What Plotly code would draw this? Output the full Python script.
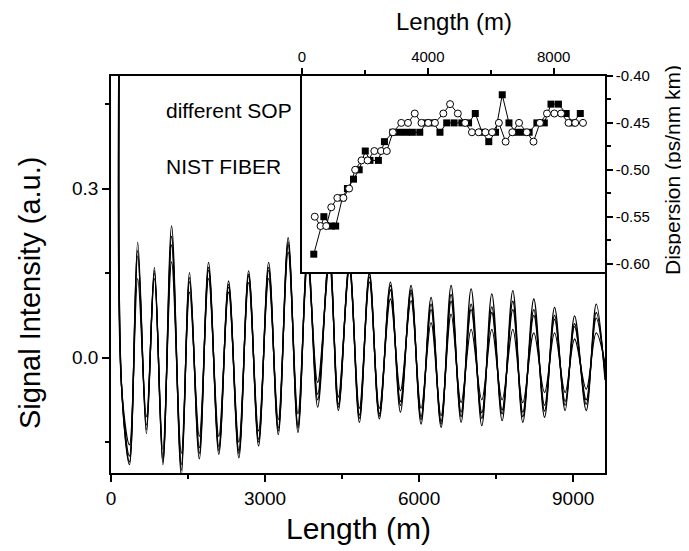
import plotly.graph_objects as go

# ---------------- main chart data (extrema) ----------------
ext_x = [190, 205, 360, 520, 690, 845, 1010, 1180, 1370, 1530, 1720, 1900, 2100, 2290,
         2490, 2680, 2874, 3070, 3258, 3450, 3641, 3830, 4025, 4253, 4428, 4642, 4837,
         5032, 5226, 5441, 5636, 5843, 6038, 6233, 6428, 6623, 6818, 7013, 7221, 7416,
         7617, 7825, 8020, 8234, 8443, 8638, 8844, 9028, 9254, 9449, 9620]

sop_a = [0.9, -0.05, -0.19, 0.205, -0.135, 0.16, -0.19, 0.234, -0.21, 0.151, -0.18, 0.169,
         -0.172, 0.136, -0.178, 0.154, -0.157, 0.169, -0.137, 0.213, -0.133, 0.19, -0.088,
         0.19, -0.094, 0.17, -0.115, 0.152, -0.109, 0.134, -0.097, 0.128, -0.118, 0.107,
         -0.124, 0.128, -0.115, 0.122, -0.121, 0.113, -0.112, 0.119, -0.115, 0.104, -0.106,
         0.089, -0.094, 0.074, -0.094, 0.095, -0.04]
sop_b = [0.9, -0.05, -0.155, 0.14, -0.105, 0.14, -0.163, 0.17, -0.17, 0.116, -0.14, 0.14,
         -0.14, 0.116, -0.15, 0.133, -0.13, 0.14, -0.11, 0.187, -0.10, 0.165, -0.044,
         0.165, -0.07, 0.155, -0.09, 0.134, -0.09, 0.104, -0.059, 0.101, -0.09, 0.062,
         -0.103, 0.077, -0.08, 0.05, -0.075, 0.05, -0.075, 0.05, -0.08, 0.044, -0.062,
         0.044, -0.062, 0.033, -0.056, 0.044, -0.01]
sop_c = [0.9, -0.05, -0.175, 0.18, -0.12, 0.15, -0.178, 0.2, -0.19, 0.135, -0.16, 0.155,
         -0.158, 0.125, -0.165, 0.145, -0.145, 0.155, -0.125, 0.2, -0.12, 0.18, -0.065,
         0.18, -0.083, 0.162, -0.102, 0.143, -0.1, 0.12, -0.078, 0.115, -0.105, 0.085,
         -0.113, 0.1, -0.097, 0.085, -0.098, 0.08, -0.093, 0.085, -0.097, 0.075, -0.085,
         0.068, -0.078, 0.055, -0.075, 0.07, -0.025]
sop_d = [0.9, -0.05, -0.185, 0.19, -0.128, 0.155, -0.185, 0.215, -0.2, 0.142, -0.17, 0.16,
         -0.165, 0.13, -0.17, 0.148, -0.15, 0.16, -0.13, 0.205, -0.125, 0.185, -0.075,
         0.185, -0.088, 0.165, -0.108, 0.148, -0.104, 0.128, -0.085, 0.12, -0.11, 0.095,
         -0.118, 0.112, -0.105, 0.095, -0.108, 0.09, -0.1, 0.1, -0.105, 0.085, -0.095,
         0.075, -0.085, 0.06, -0.083, 0.08, -0.03]

# ---------------- inset data ----------------
sq_x = [374, 695, 930, 1070, 1283, 1444, 1636, 1818, 2011, 2160, 2428, 2620, 2888, 3102,
        3316, 3508, 3743, 3957, 4171, 4385, 4599, 4834, 5080, 5294, 5508, 5722, 5936,
        6150, 6364, 6578, 6791, 7005, 7219, 7465, 7701, 7914, 8150, 8396, 8610, 8845]
sq_y = [-0.59, -0.55, -0.56, -0.56, -0.53, -0.52, -0.51, -0.50, -0.48, -0.49, -0.49, -0.47,
        -0.46, -0.46, -0.46, -0.46, -0.46, -0.45, -0.45, -0.46, -0.45, -0.45, -0.45, -0.45,
        -0.44, -0.46, -0.47, -0.46, -0.42, -0.45, -0.46, -0.46, -0.46, -0.45, -0.45, -0.43,
        -0.43, -0.44, -0.45, -0.44]
circ_x = [406, 588, 770, 930, 1123, 1316, 1497, 1690, 1893, 2086, 2299, 2513, 2695, 2888,
          3155, 3369, 3583, 3797, 4011, 4225, 4492, 4706, 4952, 5187, 5401, 5615, 5829,
          6043, 6257, 6471, 6684, 6898, 7144, 7358, 7561, 7786, 8021, 8235, 8471, 8684, 8930]
circ_y = [-0.55, -0.56, -0.56, -0.54, -0.53, -0.53, -0.52, -0.50, -0.49, -0.49, -0.48, -0.48,
          -0.48, -0.46, -0.45, -0.45, -0.44, -0.45, -0.45, -0.45, -0.44, -0.43, -0.44, -0.45,
          -0.46, -0.46, -0.46, -0.46, -0.45, -0.47, -0.46, -0.45, -0.46, -0.47, -0.45, -0.44,
          -0.44, -0.44, -0.45, -0.45, -0.45]

main_xticks = [0, 3000, 6000, 9000]
main_yticks = [0.0, 0.3]
inset_xticks = [0, 4000, 8000]
inset_yticks = [-0.40, -0.45, -0.50, -0.55, -0.60]

FONT = "Liberation Sans, Arial, Helvetica, sans-serif"
W, H = 689, 551
L, R, T, B = 103, 92, 68, 86
PW, PH = W - L - R, H - T - B


def px(x):
    return (x - L) / PW


def py(y):
    return (H - B - y) / PH


fig = go.Figure()
for ys in [sop_a, sop_b, sop_c, sop_d]:
    fig.add_trace(go.Scatter(x=ext_x, y=ys, mode="lines", xaxis="x", yaxis="y",
                             line=dict(color="black", width=1.3, shape="spline", smoothing=1.0),
                             showlegend=False, hoverinfo="skip"))

fig.add_trace(go.Scatter(x=sq_x, y=sq_y, mode="lines+markers", xaxis="x2", yaxis="y2",
                         line=dict(color="black", width=1),
                         marker=dict(symbol="square", size=7, color="black"),
                         showlegend=False))
fig.add_trace(go.Scatter(x=circ_x, y=circ_y, mode="lines+markers", xaxis="x2", yaxis="y2",
                         line=dict(color="black", width=1),
                         marker=dict(symbol="circle", size=7, color="white",
                                     line=dict(color="black", width=1)),
                         showlegend=False))

axis_common = dict(showgrid=False, zeroline=False, showline=True, linecolor="black",
                   linewidth=1.5, ticks="outside", tickcolor="black", tickwidth=1.5)

fig.update_layout(
    width=W, height=H,
    margin=dict(l=L, r=R, t=T, b=B),
    paper_bgcolor="white", plot_bgcolor="white",
    font=dict(family=FONT, color="black"),
    xaxis=dict(**axis_common, domain=[0, 1], range=[0, 9620], mirror=True,
               tickmode="array", tickvals=main_xticks,
               ticktext=[str(v) for v in main_xticks], ticklen=7,
               tickfont=dict(size=19),
               minor=dict(tickmode="array", tickvals=[1500, 4500, 7500],
                          ticks="outside", ticklen=4, tickcolor="black", tickwidth=1.5)),
    yaxis=dict(**axis_common, domain=[0, 1], range=[-0.205, 0.5], mirror=True,
               tickmode="array", tickvals=main_yticks, ticktext=["0.0", "0.3"],
               ticklen=7, tickfont=dict(size=19),
               minor=dict(tickmode="array", tickvals=[-0.15, 0.15, 0.45],
                          ticks="outside", ticklen=4, tickcolor="black", tickwidth=1.5)),
    xaxis2=dict(**axis_common, domain=[px(294), 1], range=[0, 9630], side="top",
                anchor="y2", mirror=True, tickmode="array", tickvals=inset_xticks,
                ticktext=[str(v) for v in inset_xticks], ticklen=6,
                tickfont=dict(size=15),
                minor=dict(tickmode="array", tickvals=[2000, 6000],
                           ticks="outside", ticklen=4, tickcolor="black", tickwidth=1.5)),
    yaxis2=dict(**axis_common, domain=[py(264), 1], range=[-0.609, -0.40], side="right",
                anchor="x2", mirror=True, tickmode="array", tickvals=inset_yticks,
                ticktext=["%.2f" % v for v in inset_yticks], ticklen=6,
                tickfont=dict(size=15),
                minor=dict(tickmode="array",
                           tickvals=[-0.425, -0.475, -0.525, -0.575],
                           ticks="outside", ticklen=4, tickcolor="black", tickwidth=1.5)),
)

annots = [
    dict(text="different SOP", x=px(156), y=py(102), xanchor="left", yanchor="middle",
         font=dict(size=21)),
    dict(text="NIST FIBER", x=px(156), y=py(158), xanchor="left", yanchor="middle",
         font=dict(size=21)),
    dict(text="Length (m)", x=px(350), y=py(520), xanchor="center", yanchor="middle",
         font=dict(size=30)),
    dict(text="Signal Intensity (a.u.)", x=px(22), y=py(285), xanchor="center",
         yanchor="middle", textangle=-90, font=dict(size=29)),
    dict(text="Length (m)", x=px(446), y=py(13), xanchor="center", yanchor="middle",
         font=dict(size=24)),
    dict(text="Dispersion (ps/nm km)", x=px(664), y=py(162), xanchor="center",
         yanchor="middle", textangle=-90, font=dict(size=21)),
]
for a in annots:
    fig.add_annotation(xref="paper", yref="paper", showarrow=False, **a)

fig.write_html("out.html")
